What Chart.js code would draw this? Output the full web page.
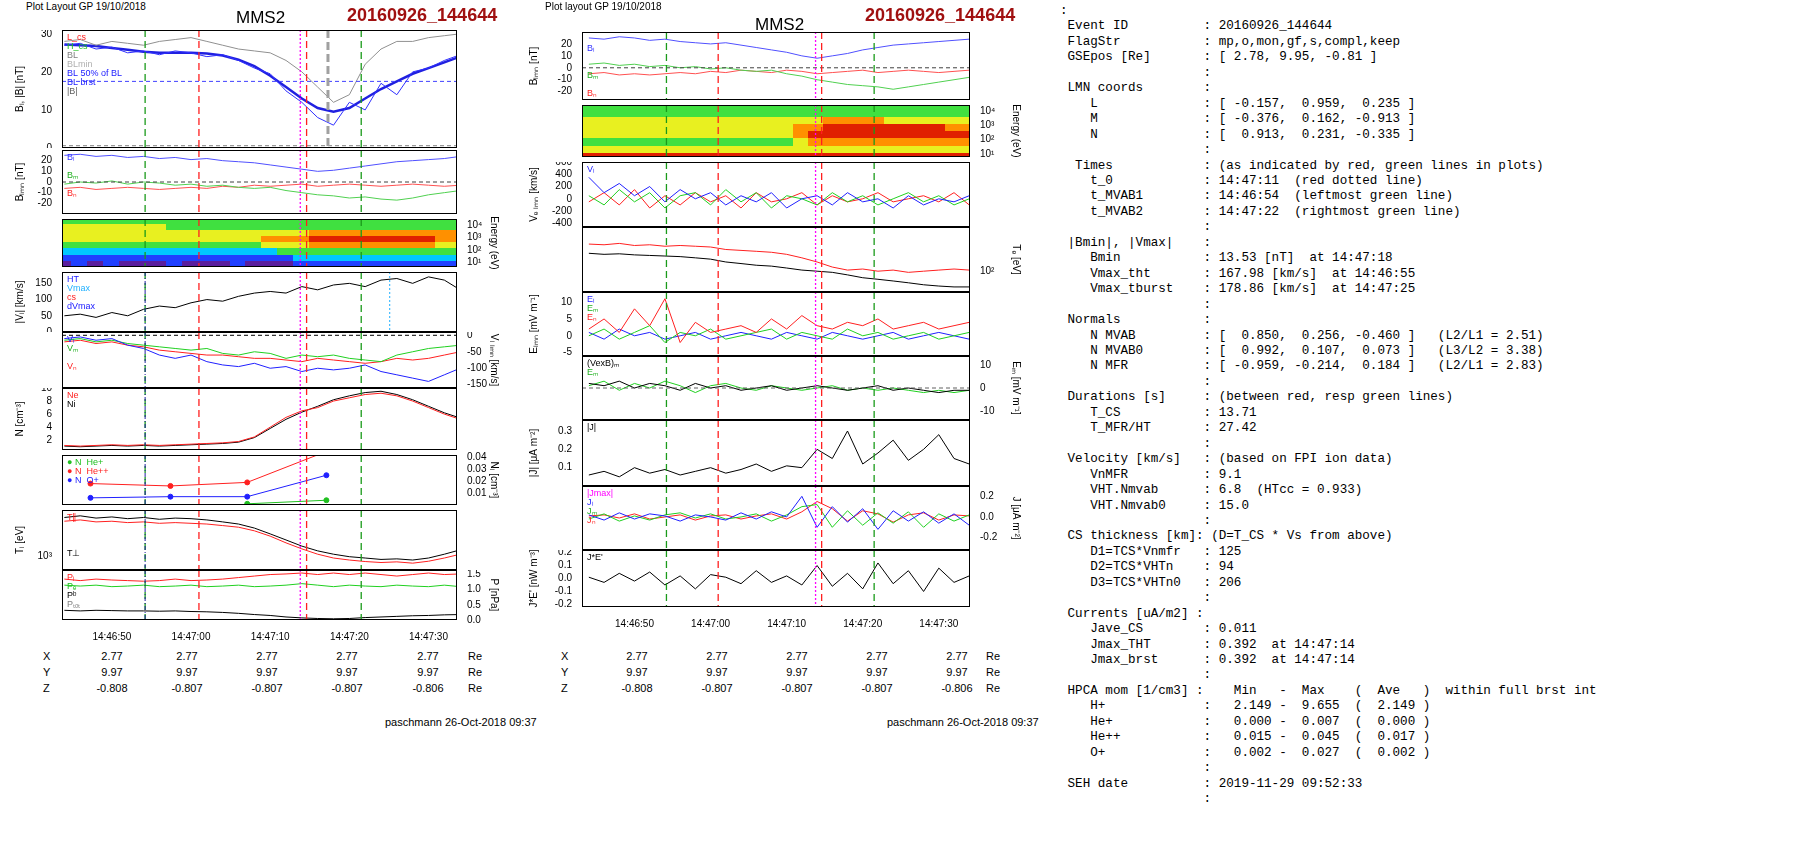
<!DOCTYPE html>
<html>
<head>
<meta charset="utf-8">
<script src="https://cdn.jsdelivr.net/npm/chart.js@4.4.1/dist/chart.umd.min.js"></script>
<style>
body{margin:0;background:#fff;font-family:"Liberation Sans",Arial,sans-serif;}
#page{position:relative;width:1804px;height:841px;overflow:hidden;}
.pn{position:absolute;}
.tx{position:absolute;white-space:nowrap;color:#000;}
pre{position:absolute;left:1060px;top:4px;margin:0;font:12.6px/15.45px "Liberation Mono","DejaVu Sans Mono",monospace;color:#000;}
</style>
</head>
<body>
<div id="page"></div>
<script>
// time axis: seconds after 14:46:00
var t = [44,46,48,50,52,54,56,58,60,62,64,66,68,70,72,74,76,78,80,82,84,86,88,90,92,94];
var xTicks = [50,60,70,80,90];

// event markers (green = MVAB interval, red = CS, magenta = Bmin)
var markT = [54.2, 61, 73.8, 74.6, 81.5];
var markC = ['#1a9a1a','#ff2020','#ff00ff','#ff2020','#1a9a1a'];

// ---- left column data ----
var lBabs   = [28,28.5,27,28,27.5,27,28,28.5,29,28,27,26,25.5,25,23,20,16,12,14,22,26,28,28,29,29.5,30];
var lBLfit  = [27.2,27,26.8,26.3,25.8,25.3,25,25,25,24.8,24.3,23.2,21.5,19,16,13,10.5,9.5,10.5,13,15.5,17.5,19.5,21,22.5,24];
var lBLbrst = [27,27.5,26,26.5,25,25.5,24.5,25.5,25,24,24.5,23,21,19.5,15,12,8,6,12,10,17,14,20,21,23,24.5];
var lB2L = [25,26,24,25,23,24,22,23,21,22,20,19,18,16,14,12,10,11,13,15,17,19,20,21,22,24];
var lB2M = [-2,0,-1,1,-2,0,-1,-3,-2,-4,-3,-5,-6,-5,-8,-10,-12,-13,-15,-14,-16,-17,-15,-12,-10,-8];
var lB2N = [-6,-5,-7,-6,-5,-6,-7,-6,-5,-6,-4,-5,-3,-4,-3,-2,-4,-3,-2,-3,-4,-3,-2,-3,-4,-3];
var lVi  = [50,55,45,60,50,70,80,75,90,100,95,110,120,125,120,140,130,145,150,140,160,165,150,170,160,130];
var lViL = [-10,-5,-15,-10,-30,-40,-60,-70,-60,-80,-90,-95,-85,-100,-95,-110,-100,-105,-100,-90,-110,-120,-130,-140,-120,-100];
var lViM = [-15,-10,-20,-15,-25,-30,-35,-40,-45,-40,-55,-60,-50,-55,-70,-60,-65,-60,-70,-75,-80,-60,-50,-40,-35,-30];
var lViN = [-20,-15,-25,-20,-30,-35,-45,-50,-55,-60,-60,-65,-70,-70,-75,-80,-70,-75,-80,-85,-80,-70,-75,-70,-60,-50];
var lNe  = [1.2,1.1,1.2,1.3,1.2,1.3,1.2,1.3,1.4,1.5,1.6,1.8,2.5,4,5.5,6.5,7,8,8.5,9,9.2,8.8,8,7,6,5.2];
var lNi  = [1.1,1.0,1.1,1.2,1.1,1.2,1.1,1.2,1.3,1.4,1.5,1.7,2.4,3.8,5.2,6.3,7.2,8.2,8.8,9.3,9.5,9,8.2,7.2,6.2,5.4];
var tH    = [47.3,57.4,67.1,77.1];
var hHepp = [0.018,0.016,0.019,0.045];
var hOp   = [0.006,0.007,0.007,0.025];
var hHep  = [null,null,0.001,0.004];
var lTperp = [4500,4800,4400,4600,4300,4500,4200,4400,4300,4100,3800,3500,3000,2400,1900,1500,1250,1100,1000,950,900,920,880,950,1100,1300];
var lTpar  = [3900,4100,3800,3900,3700,3800,3600,3700,3600,3500,3300,3100,2700,2200,1700,1350,1100,950,880,830,800,820,780,840,950,1100];
var lPi = [1.35,1.3,1.35,1.32,1.3,1.28,1.3,1.35,1.3,1.32,1.35,1.4,1.45,1.5,1.52,1.55,1.5,1.55,1.5,1.55,1.5,1.45,1.5,1.55,1.5,1.52];
var lPe = [1.15,1.12,1.15,1.1,1.12,1.15,1.1,1.12,1.15,1.1,1.12,1.15,1.1,1.12,1.15,1.2,1.15,1.1,1.15,1.12,1.1,1.15,1.12,1.1,1.15,1.1];
var lPB = [0.32,0.3,0.32,0.31,0.3,0.3,0.29,0.3,0.28,0.27,0.25,0.22,0.18,0.15,0.1,0.07,0.05,0.04,0.05,0.08,0.1,0.12,0.14,0.15,0.17,0.18];

// spectrogram colour levels per energy band (log10 E, bottom band first), one digit per time bin
var specBands = [0.25,0.75,1.25,1.75,2.25,2.75,3.25,3.75,4.25];
var ionSpec = [
 '00000000000000011111111111',
 '01010001000100011111111111',
 '11111111111111122222222222',
 '22222222222222333333333333',
 '33333333333334445555555544',
 '44444444444445556666666655',
 '44444444444444445555555555',
 '44444443333333333333333333',
 '33333333333333333333333333'];
var eleSpec = [
 '66666666666666666666666666',
 '66666666666666666666666666',
 '44444444444444444444444444',
 '33333333333333455555555555',
 '44444444444444566666666666',
 '44444444444444556666666655',
 '44444444444444445555444444',
 '33333333333333333333333333',
 '33333333333333333333333333'];
var specColors = ['#5a1e9e','#2040ff','#00c8ff','#40e040','#e8f020','#ff9000','#e02000'];

// ---- middle column data ----
var mBL = [25,24,26,25,23,24,22,21,20,21,19,17,15,13,10,8,10,12,15,17,19,20,21,22,23,24];
var mBM = [3,4,2,3,1,2,0,1,-1,0,-2,-3,-2,-5,-7,-10,-12,-14,-15,-16,-18,-16,-14,-12,-10,-8];
var mBN = [-5,-4,-6,-5,-6,-5,-4,-5,-3,-4,-2,-3,-4,-2,-3,-5,-4,-3,-2,-4,-3,-2,-3,-4,-3,-2];
var mVeL = [350,100,250,50,200,-50,150,0,100,-100,50,-50,100,-150,0,50,-100,100,-50,0,-150,50,-100,0,-50,50];
var mVeM = [50,-100,150,-50,100,-150,50,100,-100,150,-50,100,-150,50,0,-100,100,-50,50,-100,0,100,-50,50,-100,0];
var mVeN = [-50,100,-100,150,-150,50,-100,100,-50,50,-150,100,-50,0,100,-100,50,-50,0,100,-50,0,50,-50,100,-100];
var mTe   = [220,210,215,205,200,195,190,180,170,150,140,130,125,115,105,100,95,85,75,70,65,60,55,52,50,50];
var mTpar = [330,320,340,310,320,300,310,300,290,260,250,240,230,210,180,150,120,105,110,100,105,95,100,105,110,105];
var mEL = [1,-1,2,0,1,-1,0,1,-1,0,1,0,-1,1,0,-1,1,0,-1,0,1,-1,0,1,0,-1];
var mEM = [0,2,-1,1,3,-2,1,0,2,-1,0,1,2,-1,1,0,-1,2,0,1,-1,0,1,-1,0,1];
var mEN = [2,5,1,8,3,11,-2,4,1,2,3,1,5,2,6,3,2,4,3,5,2,3,4,2,3,4];
var mVxB = [2,1,3,0,2,1,-1,2,0,1,-1,0,1,-1,0,1,0,-1,0,1,-1,0,-1,-2,-1,-1];
var mEMp = [1,3,-1,2,0,3,1,-2,1,2,0,-1,1,0,-1,0,1,-1,0,-1,0,-1,-2,-1,-2,-1];
var mJ   = [0.06,0.08,0.05,0.1,0.07,0.09,0.06,0.08,0.1,0.07,0.09,0.12,0.08,0.11,0.1,0.2,0.15,0.3,0.12,0.18,0.25,0.14,0.2,0.28,0.15,0.12];
var mJL  = [0.02,-0.03,0.04,-0.02,0.03,0.01,-0.04,0.02,0,-0.03,0.04,-0.02,0.05,0,0.2,-0.1,0.1,-0.05,0.08,-0.12,0.06,-0.04,0.05,-0.06,0.03,-0.08];
var mJM  = [-0.02,0.03,-0.04,0.01,-0.03,0.02,0.04,-0.01,0.03,-0.02,0,0.03,-0.04,0.02,0.1,0.12,-0.1,0.06,-0.08,0.04,-0.06,0.05,-0.1,0.03,-0.04,0.02];
var mJN  = [0.01,0.02,-0.01,0.03,-0.02,0,0.02,-0.03,0.01,0.02,-0.02,0.01,0.03,-0.02,0.05,0.15,0.08,-0.04,0.06,0.03,-0.05,0.02,0.04,-0.03,0.02,0.01];
var mJE  = [0.01,-0.03,0.04,-0.02,0.05,-0.05,0.02,-0.08,0.03,0.01,-0.04,0.06,-0.03,0.02,-0.05,0.1,-0.06,0.04,-0.08,0.12,-0.04,0.06,-0.1,0.08,-0.03,0.02];

// position table
var posX = ['2.77','2.77','2.77','2.77','2.77'];
var posY = ['9.97','9.97','9.97','9.97','9.97'];
var posZ = ['-0.808','-0.807','-0.807','-0.807','-0.806'];

var page = document.getElementById('page');

function xy(xs, ys){ return xs.map(function(x,i){ return {x:x, y:ys[i]}; }); }
function line(label, xs, ys, color, extra){
  var d = {label:label, data:xy(xs,ys), borderColor:color, backgroundColor:color, borderWidth:1, pointRadius:0, tension:0};
  for (var k in extra) d[k] = extra[k];
  return d;
}
function fmtT(v){
  var m = v < 60 ? 46 : 47, s = v < 60 ? v : v - 60;
  return '14:' + m + ':' + (s < 10 ? '0' : '') + s;
}

var framePlugin = {
  id:'frame',
  afterDatasetsDraw: function(chart){
    var o = chart.options.plugins.frame, a = chart.chartArea, c = chart.ctx, xs = chart.scales.x;
    c.save();
    c.beginPath(); c.rect(a.left, a.top, a.right-a.left, a.bottom-a.top); c.clip();
    (o.hlines||[]).forEach(function(h){
      var sc = chart.scales[h.axis||'y'], y = sc.getPixelForValue(h.y);
      c.strokeStyle = h.color; c.lineWidth = 1; c.setLineDash(h.dash||[4,3]);
      c.beginPath(); c.moveTo(a.left,y); c.lineTo(a.right,y); c.stroke();
    });
    markT.forEach(function(m,i){
      var x = xs.getPixelForValue(m);
      c.strokeStyle = markC[i]; c.lineWidth = 1.3; c.setLineDash(markC[i]=='#ff00ff'?[2,2]:[7,4]);
      c.beginPath(); c.moveTo(x,a.top); c.lineTo(x,a.bottom); c.stroke();
    });
    (o.vlines||[]).forEach(function(v){
      var x = xs.getPixelForValue(v.x);
      c.strokeStyle = v.color; c.lineWidth = v.width||1; c.setLineDash(v.dash||[5,3]);
      c.beginPath(); c.moveTo(x,a.top); c.lineTo(x,a.bottom); c.stroke();
    });
    c.setLineDash([]);
    c.font = '9px "Liberation Sans", Arial';
    (o.tags||[]).forEach(function(tg,i){
      c.fillStyle = tg[1]; c.fillText(tg[0], a.left+5, a.top+10+i*9);
    });
    c.restore();
    c.strokeStyle = '#000'; c.lineWidth = 1;
    c.strokeRect(a.left+0.5, a.top+0.5, a.right-a.left-1, a.bottom-a.top-1);
  }
};
Chart.register(framePlugin);

var colL = {left:14, width:486, lw:48, rw:43, min:43.7, max:93.6};
var colM = {left:528, width:494, lw:54, rw:52, min:43.1, max:94.1};

function axis(opt, side, w){
  var ax = {
    position: side, display: true,
    grid:{display:false}, border:{display:false},
    ticks:{display:!!opt, color:'#000', font:{size:10}, padding:2, autoSkip:false},
    title:{display:!!(opt&&opt.title), text:opt?opt.title:'', color:'#000', font:{size:10}, padding:0},
    afterFit:function(s){ s.width = w; s.paddingTop = 0; s.paddingBottom = 0; }
  };
  if (opt){
    ['min','max','type'].forEach(function(k){ if (opt[k]!==undefined) ax[k]=opt[k]; });
    if (opt.cb) ax.ticks.callback = opt.cb;
    if (opt.keep) ax.afterBuildTicks = function(s){ s.ticks = opt.keep.map(function(v){return {value:v};}); };
  }
  return ax;
}

function panel(col, top, h, cfg){
  var H = h + (cfg.showX ? 18 : 0);
  var div = document.createElement('div');
  div.className = 'pn';
  div.style.left = col.left+'px'; div.style.top = top+'px';
  var cv = document.createElement('canvas');
  cv.width = col.width; cv.height = H;
  cv.style.width = col.width+'px'; cv.style.height = H+'px';
  div.appendChild(cv); page.appendChild(div);
  new Chart(cv, {
    type: 'line',
    data: {datasets: cfg.datasets},
    options: {
      animation:false, responsive:false, maintainAspectRatio:false,
      layout:{padding:0},
      plugins:{legend:{display:false}, tooltip:{enabled:false},
        frame:{tags:cfg.tags, hlines:cfg.hlines, vlines:cfg.vlines}},
      scales:{
        x:{type:'linear', min:col.min, max:col.max, display:!!cfg.showX,
           grid:{display:false}, border:{display:false},
           afterBuildTicks:function(s){ s.ticks = xTicks.map(function(v){return {value:v};}); },
           afterFit:function(s){ s.paddingLeft = 0; s.paddingRight = 0; },
           ticks:{color:'#000', font:{size:10}, maxRotation:0, autoSkip:false, callback:fmtT}},
        y: axis(cfg.y,'left',col.lw),
        y2: axis(cfg.y2,'right',col.rw)
      }
    }
  });
}

// spectrogram cells: one coloured tile image per time bin / energy band, placed by the scales
function specSets(rows, w, h, axisId){
  var tiles = specColors.map(function(c){
    var cv = document.createElement('canvas'); cv.width = w; cv.height = h;
    var g = cv.getContext('2d'); g.fillStyle = c; g.fillRect(0,0,w,h); return cv;
  });
  return rows.map(function(r, b){
    return {label:'E'+b, showLine:false, yAxisID:axisId, pointRadius:1,
      data:t.map(function(x){ return {x:x, y:specBands[b]}; }),
      pointStyle:r.split('').map(function(ch){ return tiles[+ch]; })};
  });
}
var logCb = function(v){ return {1:'10\u00b9',2:'10\u00b2',3:'10\u00b3',4:'10\u2074'}[v] || ''; };

// ================= LEFT COLUMN =================
panel(colL, 30, 118, {
  y:{min:0, max:31, keep:[0,10,20,30], title:'B\u2097, |B| [nT]'},
  tags:[['L_cs','#ff2020'],['H_cs','#20c020'],['BL','#808080'],['BLmin','#b0b0b0'],['BL 50% of BL','#2020ff'],['BL brst','#2020ff'],['|B|','#606060']],
  hlines:[{y:17.5, color:'#4040ff'},{y:0.6, color:'#808080'}],
  vlines:[{x:77.3, color:'#a0a0a0', width:3, dash:[8,4]}],
  datasets:[
    line('|B|', t, lBabs, '#909090'),
    line('BL brst', t, lBLbrst, '#3030ff'),
    line('BL', t, lBLfit, '#2020e0', {borderWidth:2.5})
  ]});
panel(colL, 150, 64, {
  y:{min:-30, max:30, keep:[-20,-10,0,10,20], title:'B\u2097\u2098\u2099 [nT]'},
  tags:[['B\u2097','#3030ff'],['',''],['B\u2098','#20b020'],['',''],['B\u2099','#ff2020']],
  hlines:[{y:0, color:'#404040'}],
  datasets:[line('BL',t,lB2L,'#5050ff'), line('BM',t,lB2M,'#50d050'), line('BN',t,lB2N,'#ff5050')]});
panel(colL, 214, 58, {
  y:{min:0.6, max:4.5, keep:[1,2,3,4], cb:function(){return '';}},
  y2:{min:0.6, max:4.5, keep:[1,2,3,4], cb:logCb, title:'Energy (eV)'},
  datasets: specSets(ionSpec, 18, 9, 'y2')});
panel(colL, 272, 60, {
  y:{min:0, max:185, keep:[0,50,100,150], title:'|V\u1d62| [km/s]'},
  tags:[['HT','#2020ff'],['Vmax','#20b0ff'],['cs','#ff2020'],['dVmax','#2020ff']],
  vlines:[{x:85.1, color:'#20b0ff', dash:[2,2]},{x:54.2, color:'#2020a0', dash:[4,2,1,2]}],
  datasets:[line('|Vi|',t,lVi,'#000')]});
panel(colL, 332, 56, {
  y2:{min:-160, max:10, keep:[-150,-100,-50,0], title:'V\u1d62 \u2097\u2098\u2099 [km/s]'},
  tags:[['V\u2097','#2020ff'],['V\u2098','#20b020'],['',''],['V\u2099','#ff2020']],
  hlines:[{y:0, color:'#000', axis:'y2'}],
  vlines:[{x:54.2, color:'#2020a0', dash:[4,2,1,2]}],
  datasets:[line('L',t,lViL,'#2020ff',{yAxisID:'y2'}), line('M',t,lViM,'#20d020',{yAxisID:'y2'}), line('N',t,lViN,'#ff2020',{yAxisID:'y2'})]});
panel(colL, 388, 62, {
  y:{min:0.5, max:10, keep:[2,4,6,8,10], title:'N [cm\u207b\u00b3]'},
  tags:[['Ne','#ff2020'],['Ni','#000']],
  vlines:[{x:54.2, color:'#2020a0', dash:[4,2,1,2]}],
  datasets:[line('Ne',t,lNe,'#ff2020'), line('Ni',t,lNi,'#000')]});
panel(colL, 450, 60, {
  y2:{min:0, max:0.042, keep:[0.01,0.02,0.03,0.04], title:'N\u1d62 [cm\u207b\u00b3]'},
  tags:[['\u25cf N  He+','#20c020'],['\u25cf N  He++','#ff2020'],['\u25cf N  O+','#2020ff']],
  vlines:[{x:54.2, color:'#2020a0', dash:[4,2,1,2]}],
  datasets:[
    line('He++',tH,hHepp,'#ff2020',{yAxisID:'y2', pointRadius:2.5}),
    line('O+',tH,hOp,'#2020ff',{yAxisID:'y2', pointRadius:2.5}),
    line('He+',tH,hHep,'#20c020',{yAxisID:'y2', pointRadius:2.5})]});
panel(colL, 510, 60, {
  y:{type:'logarithmic', min:600, max:6000, keep:[1000], cb:function(v){return v==1000?'10\u00b3':'';}, title:'T\u1d62 [eV]'},
  tags:[['T\u2225','#ff2020'],['',''],['',''],['',''],['T\u22a5','#000']],
  vlines:[{x:54.2, color:'#2020a0', dash:[4,2,1,2]}],
  datasets:[line('Tpar',t,lTpar,'#ff2020'), line('Tperp',t,lTperp,'#000')]});
panel(colL, 570, 58, {
  showX:true,
  y2:{min:0, max:1.65, keep:[0,0.5,1,1.5], cb:function(v){return v.toFixed(1);}, title:'P [nPa]'},
  tags:[['P\u1d62','#ff2020'],['P\u2091','#20c020'],['P\u1d47','#000'],['P\u209c\u2092\u209c','#808080']],
  vlines:[{x:54.2, color:'#2020a0', dash:[4,2,1,2]}],
  datasets:[line('Pi',t,lPi,'#ff2020',{yAxisID:'y2'}), line('Pe',t,lPe,'#20d020',{yAxisID:'y2'}), line('PB',t,lPB,'#000',{yAxisID:'y2'})]});

// ================= MIDDLE COLUMN =================
panel(colM, 32, 68, {
  y:{min:-27, max:30, keep:[-20,-10,0,10,20], title:'B\u2097\u2098\u2099 [nT]'},
  tags:[['',''],['B\u2097','#3030ff'],['',''],['',''],['B\u2098','#20b020'],['',''],['B\u2099','#ff2020']],
  hlines:[{y:0, color:'#404040'}],
  datasets:[line('BL',t,mBL,'#5050ff'), line('BM',t,mBM,'#50d050'), line('BN',t,mBN,'#ff5050')]});
panel(colM, 100, 62, {
  y:{min:0.8, max:4.4, keep:[1,2,3,4], cb:function(){return '';}},
  y2:{min:0.8, max:4.4, keep:[1,2,3,4], cb:logCb, title:'Energy (eV)'},
  datasets: specSets(eleSpec, 18, 10, 'y2')});
panel(colM, 162, 65, {
  y:{min:-460, max:600, keep:[-400,-200,0,200,400,600], title:'V\u2091 \u2097\u2098\u2099 [km/s]'},
  tags:[['V\u2097','#2020ff']],
  datasets:[line('L',t,mVeL,'#2020ff'), line('M',t,mVeM,'#20d020'), line('N',t,mVeN,'#ff2020')]});
panel(colM, 227, 65, {
  y2:{type:'logarithmic', min:40, max:700, keep:[100], cb:function(v){return v==100?'10\u00b2':'';}, title:'T\u2091 [eV]'},
  datasets:[line('Tpar',t,mTpar,'#ff2020',{yAxisID:'y2'}), line('Te',t,mTe,'#000',{yAxisID:'y2'})]});
panel(colM, 292, 64, {
  y:{min:-6, max:13, keep:[-5,0,5,10], title:'E\u2097\u2098\u2099 [mV m\u207b\u00b9]'},
  tags:[['E\u2097','#2020ff'],['E\u2098','#20b020'],['E\u2099','#ff2020']],
  datasets:[line('EN',t,mEN,'#ff2020'), line('EM',t,mEM,'#20d020'), line('EL',t,mEL,'#2020ff')]});
panel(colM, 356, 64, {
  y2:{min:-14, max:14, keep:[-10,0,10], title:'E\u2098 [mV m\u207b\u00b9]'},
  tags:[['(VexB)\u2098','#000'],['E\u2098','#20b020']],
  hlines:[{y:0, color:'#606060', axis:'y2'}],
  datasets:[line('VxB',t,mVxB,'#000',{yAxisID:'y2'}), line('EM',t,mEMp,'#20d020',{yAxisID:'y2'})]});
panel(colM, 420, 66, {
  y:{min:0, max:0.36, keep:[0.1,0.2,0.3], title:'|J| [\u03bcA m\u207b\u00b2]'},
  tags:[['|J|','#000']],
  datasets:[line('|J|',t,mJ,'#000')]});
panel(colM, 486, 64, {
  y2:{min:-0.32, max:0.3, keep:[-0.2,0,0.2], cb:function(v){return v.toFixed(1);}, title:'J [\u03bcA m\u207b\u00b2]'},
  tags:[['|Jmax|','#ff00ff'],['J\u2097','#2020ff'],['J\u2098','#20b020'],['J\u2099','#ff2020']],
  datasets:[line('JL',t,mJL,'#2020ff',{yAxisID:'y2'}), line('JM',t,mJM,'#20d020',{yAxisID:'y2'}), line('JN',t,mJN,'#ff2020',{yAxisID:'y2'})]});
panel(colM, 550, 65, {
  showX:true,
  y:{min:-0.22, max:0.22, keep:[-0.2,-0.1,0,0.1,0.2], cb:function(v){return v.toFixed(1);}, title:"J*E' [nW m\u207b\u00b3]"},
  tags:[["J*E'",'#000']],
  datasets:[line('JE',t,mJE,'#000')]});

// ================= TEXT =================
function text(s, x, y, css){
  var d = document.createElement('div'); d.className='tx';
  d.style.left = x+'px'; d.style.top = y+'px'; d.style.cssText += css||'font-size:11px';
  d.textContent = s; page.appendChild(d); return d;
}
text('Plot Layout GP 19/10/2018', 26, 1, 'font-size:10px');
text('MMS2', 236, 8, 'font-size:17px');
text('20160926_144644', 347, 5, 'font-size:18px;font-weight:bold;color:#a01010');
text('Plot layout GP 19/10/2018', 545, 1, 'font-size:10px');
text('MMS2', 755, 15, 'font-size:17px');
text('20160926_144644', 865, 5, 'font-size:18px;font-weight:bold;color:#a01010');
function posTable(lx, cx, rx){
  [['X',posX,650],['Y',posY,666],['Z',posZ,682]].forEach(function(r){
    text(r[0], lx, r[2]);
    r[1].forEach(function(v,i){ var d = text(v, cx[i]-20, r[2]); d.style.width='40px'; d.style.textAlign='center'; });
    text('Re', rx, r[2]);
  });
}
posTable(43, [112,187,267,347,428], 468);
posTable(561, [637,717,797,877,957], 986);
text('paschmann 26-Oct-2018 09:37', 385, 716, 'font-size:11px');
text('paschmann 26-Oct-2018 09:37', 887, 716, 'font-size:11px');

var info = [
':',
' Event ID          : 20160926_144644',
' FlagStr           : mp,o,mon,gf,s,compl,keep',
' GSEpos [Re]       : [ 2.78, 9.95, -0.81 ]',
'                   :',
' LMN coords        :',
'    L              : [ -0.157,  0.959,  0.235 ]',
'    M              : [ -0.376,  0.162, -0.913 ]',
'    N              : [  0.913,  0.231, -0.335 ]',
'                   :',
'  Times            : (as indicated by red, green lines in plots)',
'    t_0            : 14:47:11  (red dotted line)',
'    t_MVAB1        : 14:46:54  (leftmost green line)',
'    t_MVAB2        : 14:47:22  (rightmost green line)',
'                   :',
' |Bmin|, |Vmax|    :',
'    Bmin           : 13.53 [nT]  at 14:47:18',
'    Vmax_tht       : 167.98 [km/s]  at 14:46:55',
'    Vmax_tburst    : 178.86 [km/s]  at 14:47:25',
'                   :',
' Normals           :',
'    N MVAB         : [  0.850,  0.256, -0.460 ]   (L2/L1 = 2.51)',
'    N MVAB0        : [  0.992,  0.107,  0.073 ]   (L3/L2 = 3.38)',
'    N MFR          : [ -0.959, -0.214,  0.184 ]   (L2/L1 = 2.83)',
'                   :',
' Durations [s]     : (between red, resp green lines)',
'    T_CS           : 13.71',
'    T_MFR/HT       : 27.42',
'                   :',
' Velocity [km/s]   : (based on FPI ion data)',
'    VnMFR          : 9.1',
'    VHT.Nmvab      : 6.8  (HTcc = 0.933)',
'    VHT.Nmvab0     : 15.0',
'                   :',
' CS thickness [km]: (D=T_CS * Vs from above)',
'    D1=TCS*Vnmfr   : 125',
'    D2=TCS*VHTn    : 94',
'    D3=TCS*VHTn0   : 206',
'                   :',
' Currents [uA/m2] :',
'    Jave_CS        : 0.011',
'    Jmax_THT       : 0.392  at 14:47:14',
'    Jmax_brst      : 0.392  at 14:47:14',
'                   :',
' HPCA mom [1/cm3] :    Min   -  Max    (  Ave   )  within full brst int',
'    H+             :   2.149 -  9.655  (  2.149 )',
'    He+            :   0.000 -  0.007  (  0.000 )',
'    He++           :   0.015 -  0.045  (  0.017 )',
'    O+             :   0.002 -  0.027  (  0.002 )',
'                   :',
' SEH date          : 2019-11-29 09:52:33',
'                   :'
];
var pre = document.createElement('pre');
pre.textContent = info.join('\n');
page.appendChild(pre);
</script>
</body>
</html>
